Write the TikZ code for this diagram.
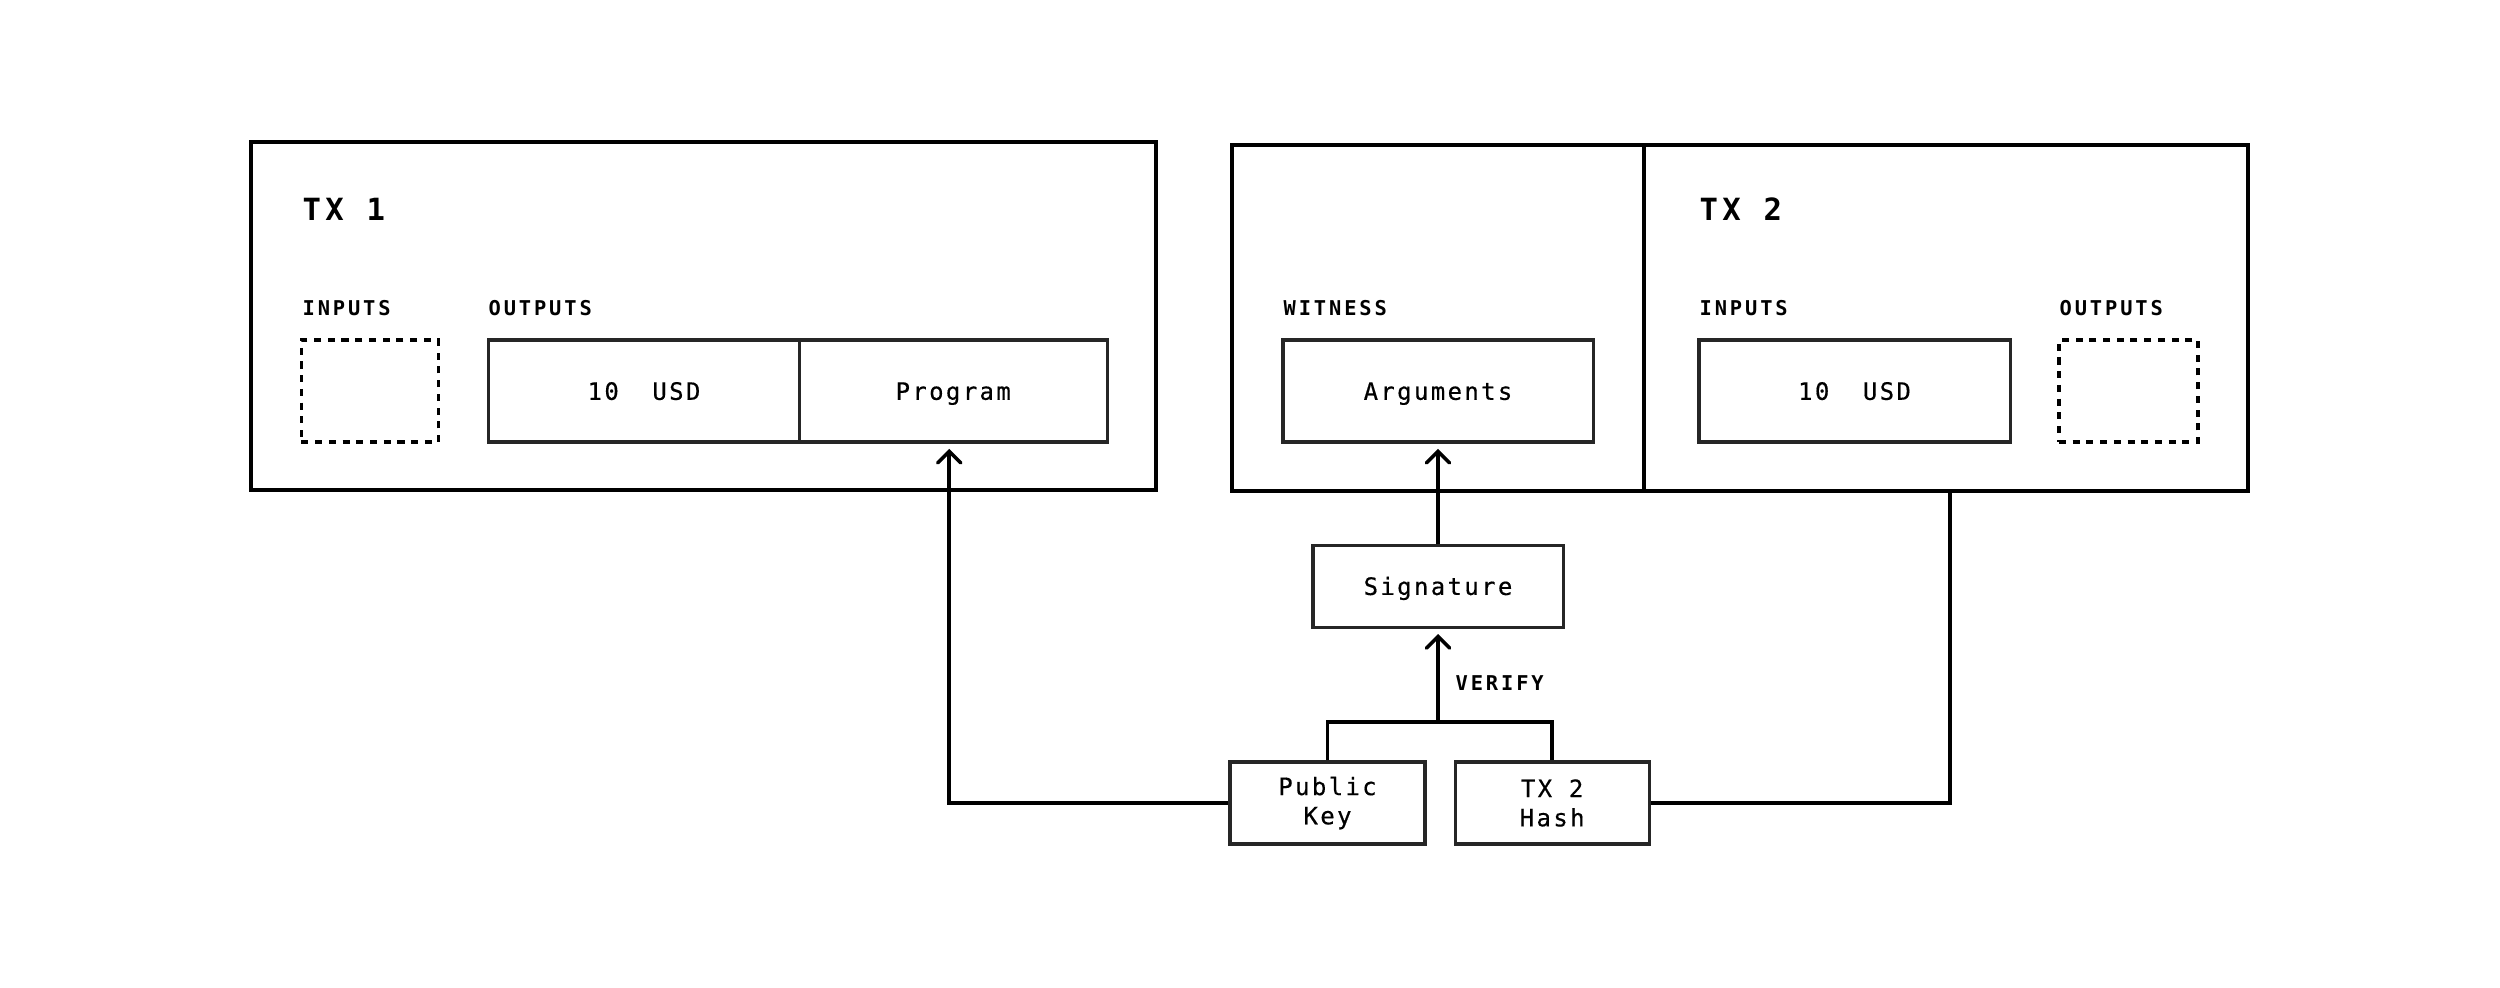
\documentclass[tikz,border=0pt]{standalone}
\usepackage{fontspec}
\usepackage{tikz}
\usetikzlibrary{shapes,arrows}
\newfontfamily\codefont[LetterSpace=14]{DejaVu Sans Mono}
\newfontfamily\bodyfont[LetterSpace=10, FakeBold=0.5]{DejaVu Sans Mono}
\tikzstyle{panel} = [draw, fill=white, rectangle, line width=1.1pt, inner sep=0pt]
\tikzstyle{block} = [draw=black!85, fill=white, rectangle, line width=0.9pt,
minimum height=1.02cm, inner sep=0pt, align=center,
font=\bodyfont\fontsize{6.8}{8.3}\selectfont]
\tikzstyle{oneline} = [text height=5pt, text depth=0pt]
\tikzstyle{slot} = [draw, rectangle, line width=0.9pt, dash pattern=on 2pt off 1.9pt,
minimum width=1.37cm, minimum height=1.02cm]
\tikzstyle{title} = [anchor=base west, inner sep=0pt, font=\codefont\bfseries\fontsize{8.7}{10}\selectfont]
\tikzstyle{field} = [anchor=base west, inner sep=0pt, font=\codefont\bfseries\fontsize{5.8}{7}\selectfont]
\tikzstyle{wire} = [line width=1pt]

\begin{document}
\begin{tikzpicture}[x=0.01cm, y=-0.01cm, >=angle 90, node distance=2cm]

	\useasboundingbox [fill=white] (0,0) rectangle (2500,987);

	\node [panel, minimum width=9.05cm, minimum height=3.48cm] (tx1) at (703.5,316) {};
	\node [panel, minimum width=4.12cm, minimum height=3.46cm] (witness) at (1438,318) {};
	\node [panel, minimum width=6.04cm, minimum height=3.46cm] (tx2) at (1946,318) {};

	\node [title] (tx1 title) at (302,220) {TX 1};
	\node [title] (tx2 title) at (1699,220) {TX 2};

	\node [field] (tx1 inputs) at (302,315) {INPUTS};
	\node [field] (tx1 outputs) at (488,315) {OUTPUTS};
	\node [field] (witness label) at (1283,315) {WITNESS};
	\node [field] (tx2 inputs) at (1699,315) {INPUTS};
	\node [field] (tx2 outputs) at (2059,315) {OUTPUTS};

	\node [slot] (tx1 in) at (370,391) {};
	\node [block, oneline, minimum width=3.10cm] (amount1) at (644,391) {10~~USD};
	\node [block, oneline, minimum width=3.08cm, right of=amount1, node distance=3.09cm] (program) {Program};
	\node [block, oneline, minimum width=3.10cm] (arguments) at (1438,391) {Arguments};
	\node [block, oneline, minimum width=3.11cm] (amount2) at (1854.5,391) {10~~USD};
	\node [slot, minimum width=1.39cm] (tx2 out) at (2128.5,391) {};

	\node [block, oneline, minimum width=2.5cm, minimum height=0.82cm, below of=arguments, node distance=1.95cm] (signature) {Signature};
	\node [block, minimum width=1.95cm, minimum height=0.82cm] (pubkey) at (1327.5,803) {Public\\Key};
	\node [block, minimum width=1.94cm, minimum height=0.82cm, right of=pubkey, node distance=2.245cm] (hash) {TX 2\\Hash};

	\coordinate (join) at (1438,722);
	\coordinate (tx2 foot) at (1950,491);
	\node [field, anchor=west] (verify) at (1455,683) {VERIFY};

	\draw [wire, ->, shorten >=1.5pt] (pubkey.west) -| ([xshift=-0.04cm]program.south);
	\draw [wire] (hash.east) -| (tx2 foot);
	\draw [wire] (pubkey.north) |- (join) -| (hash.north);
	\draw [wire, ->, shorten >=1.5pt] (join) -- (signature.south);
	\draw [wire, ->, shorten >=1.5pt] (signature.north) -- (arguments.south);

\end{tikzpicture}
\end{document}
